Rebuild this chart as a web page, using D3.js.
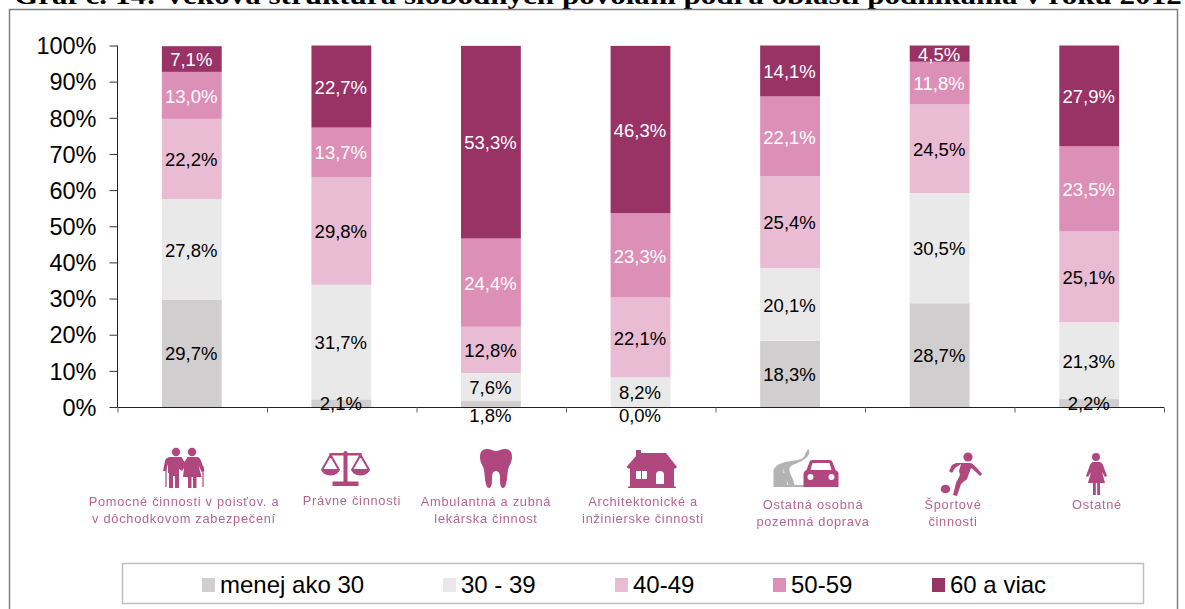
<!DOCTYPE html>
<html><head><meta charset="utf-8">
<script src="https://cdn.jsdelivr.net/npm/d3@7"></script>
<style>html,body{margin:0;padding:0;background:#fff;overflow:hidden}svg{display:block}text{font-family:"Liberation Sans",Arial,sans-serif}</style>
</head><body><div id="c"></div>
<script>
const title = "Graf č. 14: Veková štruktúra slobodných povolaní podľa oblasti podnikania v roku 2012";
const categories = ["c1","c2","c3","c4","c5","c6","c7"];
const seriesNames = ["menej ako 30","30 - 39","40-49","50-59","60 a viac"];
const colors = ["#d0cece","#e9e9e9","#e9bcd3","#dd90b7","#993366"];
const labelColors = ["#000","#000","#000","#fff","#fff"];
const under30 = [29.7,2.1,1.8,0.0,18.3,28.7,2.2];
const s30to39 = [27.8,31.7,7.6,8.2,20.1,30.5,21.3];
const s40to49 = [22.2,29.8,12.8,22.1,25.4,24.5,25.1];
const s50to59 = [13.0,13.7,24.4,23.3,22.1,11.8,23.5];
const s60plus = [7.1,22.7,53.3,46.3,14.1,4.5,27.9];
const seriesValues = [under30,s30to39,s40to49,s50to59,s60plus];
const tickLabels = [0,10,20,30,40,50,60,70,80,90,100];
const catLabels = [
 ["Pomocné činnosti v poisťov. a","v dôchodkovom zabezpečení"],
 ["Právne činnosti"],
 ["Ambulantná a zubná","lekárska činnost"],
 ["Architektonické a","inžinierske činnosti"],
 ["Ostatná osobná","pozemná doprava"],
 ["Športové","činnosti"],
 ["Ostatné"]];

const W=1185,H=609;
const svg=d3.select("#c").append("svg").attr("width",W).attr("height",H);
svg.append("text").attr("transform","translate(14,4) scale(1.268,1)").attr("font-size",24.5).attr("font-weight","bold")
  .style("font-family","'Liberation Serif',serif").text(title);
svg.append("path").attr("d",`M9.5 ${H}V9.5H1177.5V${H}`).attr("fill","none").attr("stroke","#7f7f7f").attr("stroke-width",1.5);

const x=d3.scaleBand().domain(categories).range([117,1164]).paddingInner(0.6).paddingOuter(0.3);
const y=d3.scaleLinear().domain([0,100]).range([407,45.5]);
const rows=categories.map((c,i)=>{const r={cat:c};seriesNames.forEach((s,k)=>r[s]=seriesValues[k][i]);return r;});
const stack=d3.stack().keys(seriesNames)(rows);

stack.forEach((layer,k)=>{
  const g=svg.append("g");
  g.selectAll("rect").data(layer).join("rect")
   .attr("x",d=>x(d.data.cat)).attr("width",x.bandwidth())
   .attr("y",d=>y(d[1])).attr("height",d=>y(d[0])-y(d[1])).attr("fill",colors[k]);
});

const ay=svg.append("g").attr("transform","translate(117.5,0)")
  .call(d3.axisLeft(y).tickValues(tickLabels).tickSize(8).tickFormat(d=>d+"%").tickPadding(13));
ay.selectAll("text").attr("font-size",23.5).attr("fill","#000").attr("dy","0.35em");
ay.select(".domain").attr("stroke","#222").attr("d","M0 45.5V407");
ay.selectAll(".tick line").attr("stroke","#333");

const catEdge=d3.scaleLinear().domain([0,categories.length]).range([117.5,1164]);
const ax=svg.append("g").attr("transform","translate(0,407.5)")
  .call(d3.axisBottom(catEdge).tickValues(d3.range(0,8)).tickSize(5).tickFormat(""));
ax.select(".domain").attr("stroke","#222").attr("d","M117.5 0H1164");
ax.selectAll(".tick line").attr("stroke","#666");

stack.forEach((layer,k)=>{
  svg.append("g").selectAll("text").data(layer).join("text")
   .attr("x",d=>x(d.data.cat)+x.bandwidth()/2-0.5)
   .attr("y",d=>(d[1]-d[0])<2 ? y(0)+8.5 : y((d[0]+d[1])/2)+0.7)
   .attr("dy","0.35em").attr("text-anchor","middle").attr("font-size",18.5)
   .attr("fill",d=>(d[1]-d[0])<2?"#000":labelColors[k])
   .text(d=>(d[1]-d[0]).toFixed(1).replace(".",",")+"%");
});

// pictograms
const P="#b0477f";
svg.append("defs").append("filter").attr("id","soft").append("feGaussianBlur").attr("stdDeviation",0.5);
const art=svg.append("g").attr("filter","url(#soft)");
const limb=(g,d,w)=>g.append("path").attr("fill","none").attr("stroke",P).attr("stroke-width",w).attr("stroke-linecap","round").attr("stroke-linejoin","round").attr("d",d);
const icons=[
 (g)=>{ // couple
  g.append("circle").attr("fill",P).attr("cx",-8.5).attr("cy",-16).attr("r",4.2);
  g.append("circle").attr("fill",P).attr("cx",7.5).attr("cy",-16).attr("r",4.2);
  g.append("path").attr("fill",P).attr("d","M-15 -11h12l3 5l3 -5h9c3 0 4 2 5 5l3 9l-3 1l-3 -7l3 12h-5v11h-3.500v-11h-1.500v11h-3.500v-11h-5l1 -9l-2 3l-3 -2v19h-4v-12h-2v12h-4v-15h-1v-9l-2 7h-3l2 -10c1 -3 3 -4 5 -4z");
  g.append("path").attr("fill","none").attr("stroke",P).attr("stroke-width",1.2).attr("d","M-18.500 -2V19M18.500 -2V19");},
 (g)=>{ // scales
  g.append("path").attr("fill",P).attr("d","M-2 -15a2 2 0 0 1 4 0h14v2.500h-14v26h11v4.500h-26v-4.500h11v-26h-14v-2.500h14z");
  limb(g,"M-15 -13L-23 1M-15 -13L-7 1M15 -13L7 1M15 -13L23 1",2);
  g.append("path").attr("fill",P).attr("d","M-24.500 1h19a9.500 6.500 0 0 1 -19 0zM5.500 1h19a9.500 6.500 0 0 1 -19 0z");},
 (g)=>{ // tooth
  g.append("path").attr("fill",P).attr("d","M-9 -19c4 0 6 2 9 2s5 -2 9 -2c5 0 7 3 7 8c0 6 -3 8 -4 13c-1 6 -1 18 -5 18c-3 0 -3 -6 -3 -11c0 -4 -2 -6 -4 -6s-4 2 -4 6c0 5 0 11 -3 11c-4 0 -4 -12 -5 -18c-1 -5 -4 -7 -4 -13c0 -5 2 -8 7 -8z");},
 (g)=>{ // house
  g.append("path").attr("fill",P).attr("fill-rule","evenodd").attr("d","M-15 -18h5v3h25l11 14l-1.500 1.500h-1.500v18h2v1.500h-48v-1.500h2v-18h-2l-1.500 -1.500l9.500 -11zM-15 3v8h5v-8zM-9 3v8h5v-8zM9 3a4 4 0 0 0 -4 4v9h8v-9a4 4 0 0 0 -4 -4z");},
 (g)=>{ // road and car
  g.append("path").attr("fill","#b3b3b3").attr("d","M-47 13v-17c2 -5 8 -8 18 -9c8 -1 11 -2 13 -5c1 -3 2 -5 4 -7l1 3c-1 5 -5 8 -12 11c-5 2 -9 3 -8 8c1 4 4 8 5 14h16v2z");
  g.append("path").attr("fill","#fff").attr("d","M-37 -6l1 5l-1 0zM-34 6l2 5l-1 0z");
  g.append("path").attr("fill",P).attr("fill-rule","evenodd").attr("d","M-14 -4l3 -8a3 3 0 0 1 3 -2h17a3 3 0 0 1 3 2l3 8c2 1 3 2 3 4v13h-35v-13c0 -2 1 -3 3 -4zM-10 -4h21l-2 -7h-17zM-13 3a3 3 0 1 0 6 0a3 3 0 1 0 -6 0M8 3a3 3 0 1 0 6 0a3 3 0 1 0 -6 0z");},
 (g)=>{ // player
  g.append("circle").attr("fill",P).attr("cx",7).attr("cy",-16).attr("r",4.6);
  g.append("ellipse").attr("fill",P).attr("cx",-15.500).attr("cy",16).attr("rx",4.800).attr("ry",4.300);
  g.append("path").attr("fill",P).attr("d","M-5 -10h14c3 0 8 6 12 11l-2 2c-4 -4 -7 -7 -9 -8l-4 11l-6 5l-4 12l-4 -1l3 -12l4 -8l-1 -4l2 -7l-6 4l-3 5l-3 -2l3 -6z");},
 (g)=>{ // woman
  g.append("circle").attr("fill",P).attr("cx",-1).attr("cy",-17).attr("r",4);
  g.append("path").attr("fill",P).attr("d","M-4 -12h6c2 0 3 1 4 3l4 11l-2 1l-3 -5l3 11h-5v12h-2.800v-12h-1.400v12h-2.800v-12h-5l3 -11l-3 5l-2 -1l4 -11c1 -2 2 -3 3 -3z");}
];
const iconCx=[184.5,345.5,496,651,820.5,961,1097];
const iconCy=[468,468,468,468,474,473,474];
icons.forEach((fn,i)=>{fn(art.append("g").attr("transform",`translate(${iconCx[i]},${iconCy[i]})`));});
const labelCx=[184,352,486,643,813,953,1097];
catLabels.forEach((ls,i)=>{
  ls.forEach((t,j)=>{
    art.append("text").attr("x",labelCx[i]).attr("y",(i==4||i==5?509:i==6?509:506)+j*16.5+(i==1?-1:0))
      .attr("text-anchor","middle").attr("font-size",12.8).attr("letter-spacing",0.72).attr("fill","#b5668f").text(t);
  });
});

// legend
const lg=svg.append("g");
lg.append("rect").attr("x",122.5).attr("y",563.5).attr("width",1021).attr("height",40).attr("fill","#fff").attr("stroke","#bfbfbf").attr("stroke-width",1.5);
const swX=[202,443,615,773,932];
seriesNames.forEach((s,i)=>{
  lg.append("rect").attr("x",swX[i]).attr("y",578).attr("width",13).attr("height",14).attr("fill",colors[i]);
  lg.append("text").attr("x",swX[i]+18).attr("y",585).attr("dy","0.35em").attr("font-size",24).attr("fill","#000").text(s);
});
</script></body></html>
